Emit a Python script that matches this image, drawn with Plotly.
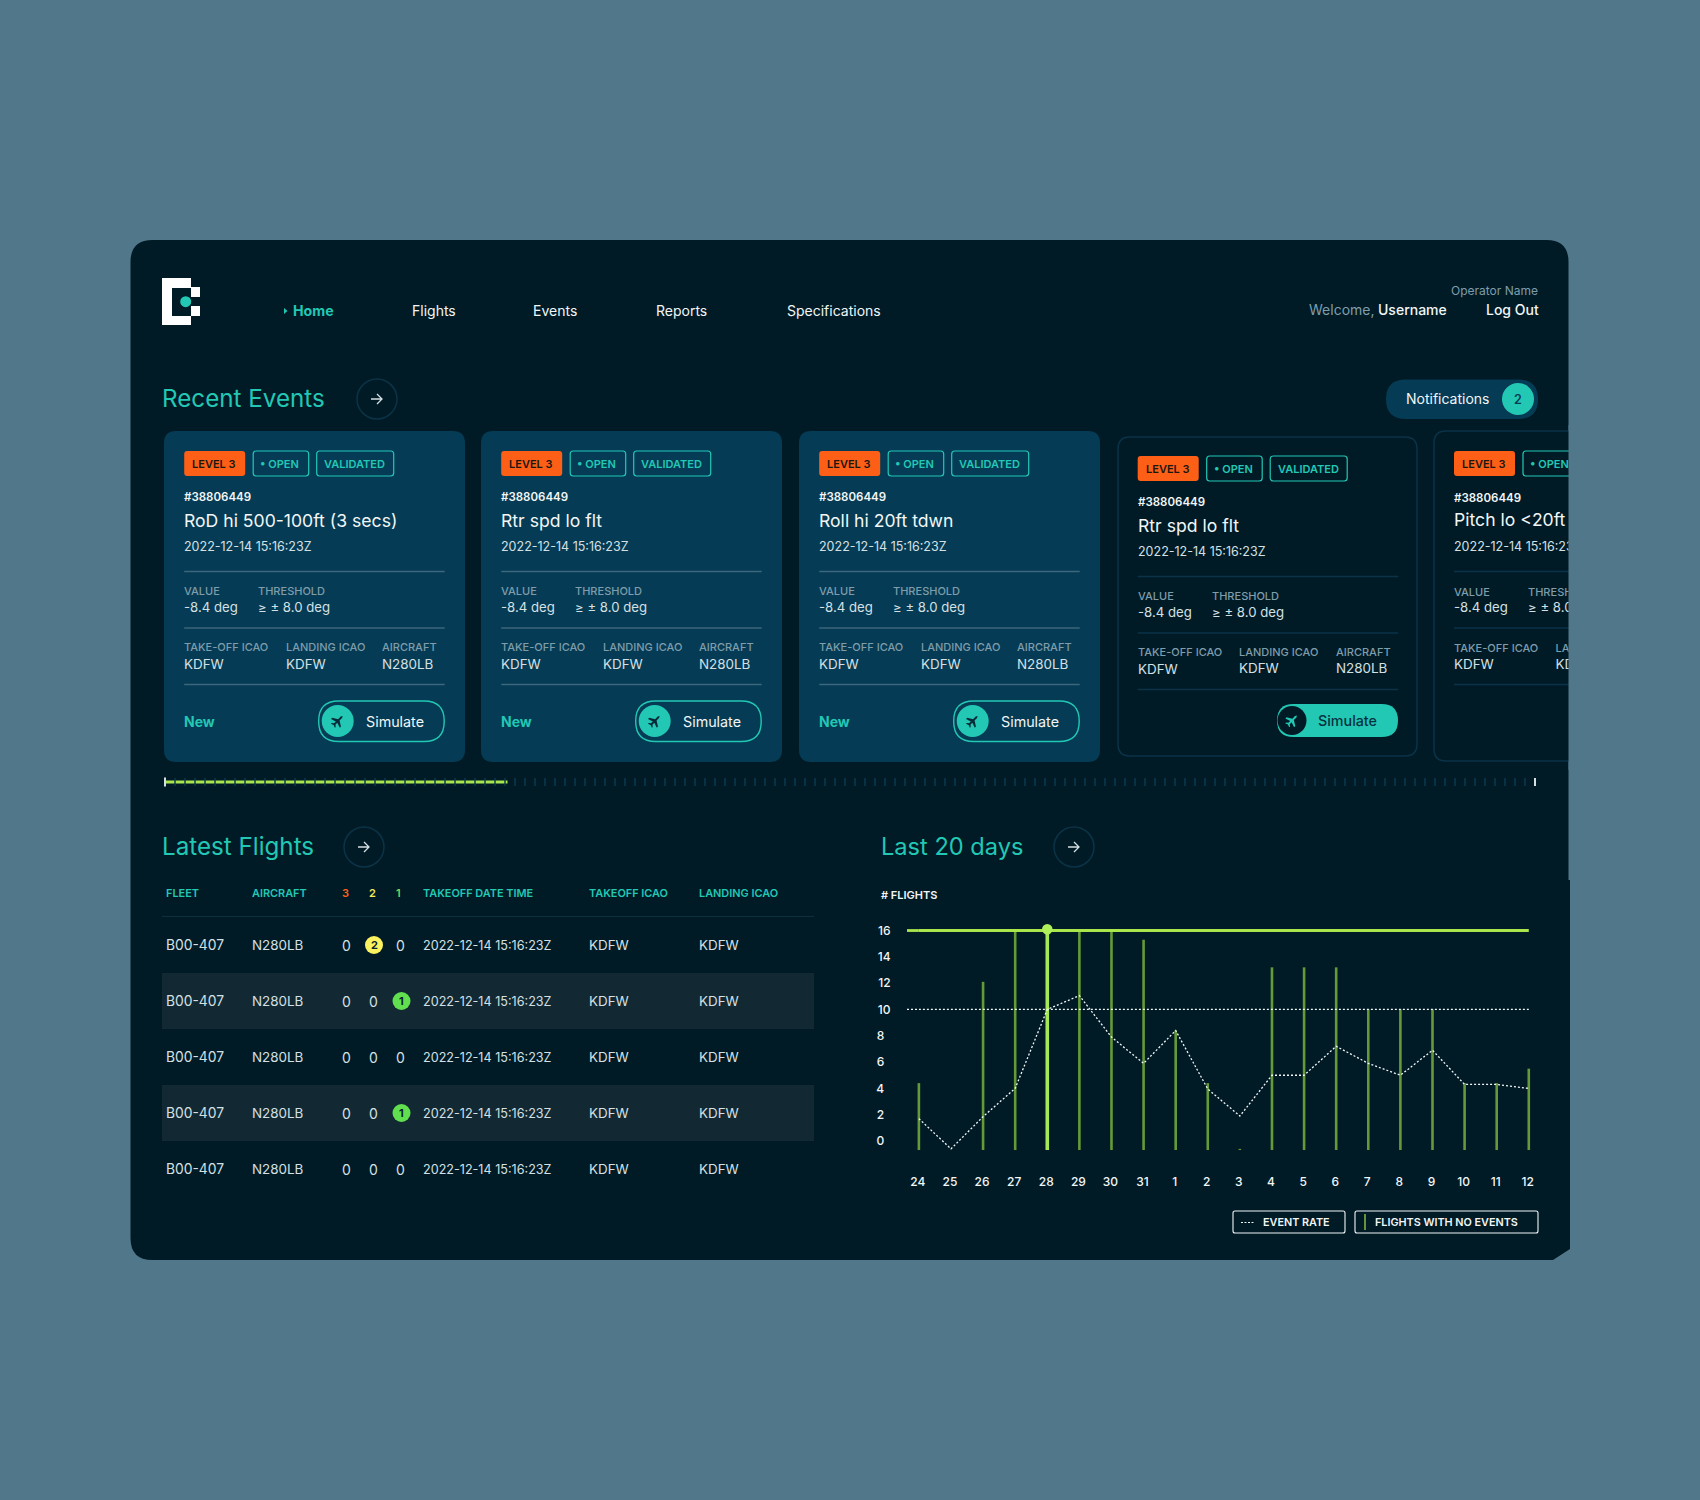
"""
Flight operations dashboard rebuilt with plotly.graph_objects
"""

import math

import plotly.graph_objects as go

# chart data
DAYS = ["24", "25", "26", "27", "28", "29", "30", "31", "1", "2",
        "3", "4", "5", "6", "7", "8", "9", "10", "11", "12"]
NO_EVENT_FLIGHTS = [4.4, None, 12.1, 16, 16, 16, 16, 15.3, 8.4, 4.4,
                    -0.6, 13.2, 13.2, 13.2, 10, 10, 10, 4.4, 4.4, 5.5]
EVENT_RATE = [1.7, -0.6, 1.85, 4.0, 10.0, 11.05, 7.9, 5.9, 8.4, 3.95,
              1.9, 5.0, 5.0, 7.2, 5.9, 5.0, 6.9, 4.3, 4.3, 4.0]
Y_TICKS = [0, 2, 4, 6, 8, 10, 12, 14, 16]
UPPER_LIMIT = 16
MID_LIMIT = 10
SELECTED_DAY = "28"
SELECTED_VALUE = 16.1

# cards
CARD_TITLES = ["RoD hi 500-100ft (3 secs)", "Rtr spd lo flt", "Roll hi 20ft tdwn", "Rtr spd lo flt", "Pitch lo <20ft"]
EVENT_ID = "#38806449"
EVENT_DATE = "2022-12-14 15:16:23Z"
EVENT_VALUE = "-8.4 deg"
EVENT_THRESHOLD = "≥ ± 8.0 deg"
EVENT_ICAO = "KDFW"
EVENT_AIRCRAFT = "N280LB"

# table
TABLE_HEADERS = ["FLEET", "AIRCRAFT", "TAKEOFF DATE TIME", "TAKEOFF ICAO", "LANDING ICAO"]
ROW_FLEET = ["B00-407"] * 5
ROW_AIRCRAFT = ["N280LB"] * 5
ROW_LEVEL3 = [0, 0, 0, 0, 0]
ROW_LEVEL2 = [2, 0, 0, 0, 0]
ROW_LEVEL1 = [0, 1, 0, 1, 0]
ROW_DATE = ["2022-12-14 15:16:23Z"] * 5
ROW_TAKEOFF = ["KDFW"] * 5
ROW_LANDING = ["KDFW"] * 5

NAV_ITEMS = ["Flights", "Events", "Reports", "Specifications"]

PAGE = "#50778a"
PANEL = "#001b26"
CARD = "#053b54"
EDGE = "#0a3349"
TEAL = "#23c8b5"
ORANGE = "#fd5f17"
LIME = "#a9e64c"
BAR = "#659a39"
WHITE = "#f2f6f7"
SOFT = "#d5e0e4"
GREY = "#7f9dab"
FONT = "Inter"

PLANE = [(7, 0), (5.2, 1), (1.6, 1), (-1.6, 6.2), (-3.2, 6.2), (-1.6, 1), (-4.2, 1), (-5.6, 2.8),
         (-6.8, 2.8), (-5.8, 0), (-6.8, -2.8), (-5.6, -2.8), (-4.2, -1), (-1.6, -1), (-3.2, -6.2),
         (-1.6, -6.2), (1.6, -1), (5.2, -1)]

fig = go.Figure()
shapes = []
notes = []
clipped = []
clip_text = False


def text(x, y, s, size=13, color=WHITE, anchor="left", weight=400):
    if clip_text:
        # the last card runs off the panel, annotations can not be clipped so these go in as text traces
        clipped.append((x, y, s, size, color, weight))
        return
    notes.append(dict(x=x, y=y, xref="x", yref="y", text=s, showarrow=False, xanchor=anchor,
                      yanchor="middle", borderpad=0, borderwidth=0,
                      font=dict(family=FONT, size=size, color=color, weight=weight)))


def path(d, fill="rgba(0,0,0,0)", line=None, width=1, dash=None):
    shapes.append(dict(type="path", path=d, xref="x", yref="y", layer="below", fillcolor=fill,
                       line=dict(color=line or "rgba(0,0,0,0)", width=width if line else 0, dash=dash)))


def rrect(x0, y0, x1, y1, r, fill="rgba(0,0,0,0)", line=None, width=1):
    d = (f"M{x0 + r},{y0} L{x1 - r},{y0} Q{x1},{y0} {x1},{y0 + r} L{x1},{y1 - r} Q{x1},{y1} {x1 - r},{y1} "
         f"L{x0 + r},{y1} Q{x0},{y1} {x0},{y1 - r} L{x0},{y0 + r} Q{x0},{y0} {x0 + r},{y0} Z")
    path(d, fill, line, width)


def circle(cx, cy, r, fill="rgba(0,0,0,0)", line=None, width=1):
    shapes.append(dict(type="circle", xref="x", yref="y", layer="below", x0=cx - r, x1=cx + r, y0=cy - r, y1=cy + r,
                       fillcolor=fill, line=dict(color=line or "rgba(0,0,0,0)", width=width if line else 0)))


def hline(x0, x1, y, color, width=1.5):
    path(f"M{x0},{y} L{x1},{y}", line=color, width=width)


def plane(cx, cy, scale, color):
    # nose points up and to the right
    c, s = math.cos(math.radians(-45)), math.sin(math.radians(-45))
    pts = [(cx + scale * (px * c - py * s), cy + scale * (px * s + py * c)) for px, py in PLANE]
    path("M" + " L".join(f"{a:.2f},{b:.2f}" for a, b in pts) + " Z", fill=color)


def arrow_button(cx, cy):
    circle(cx, cy, 20, line="#0b3347", width=1.5)
    path(f"M{cx - 6},{cy} L{cx + 5},{cy} M{cx},{cy - 5} L{cx + 5},{cy} L{cx},{cy + 5}", line=SOFT, width=1.3)


def badges(x, y, show_validated=True):
    rrect(x, y, x + 61, y + 25, 3, fill=ORANGE)
    text(x + 8, y + 12.5, "LEVEL 3", 11, "#1a1712", weight=600)
    rrect(x + 69, y, x + 124.5, y + 25, 3, line=TEAL, width=1.2)
    text(x + 76, y + 12.5, "• OPEN", 11, TEAL, weight=600)
    if show_validated:
        rrect(x + 132.5, y, x + 209.5, y + 25, 3, line=TEAL, width=1.2)
        text(x + 140, y + 12.5, "VALIDATED", 11, TEAL, weight=600)


def card_body(x, y, title, line_color, line_end=None):
    # x, y = left edge of the content and top of the badges
    end = line_end or x + 260.5
    text(x, y + 46, EVENT_ID, 11.5, WHITE, weight=600)
    text(x, y + 69, title, 17.6, WHITE)
    text(x, y + 95, EVENT_DATE, 12.5, SOFT)
    hline(x, end, y + 120.5, line_color)
    text(x, y + 140, "VALUE", 11, GREY, weight=500)
    text(x + 74, y + 140, "THRESHOLD", 11, GREY, weight=500)
    text(x, y + 156, EVENT_VALUE, 13.2, SOFT)
    text(x + 74, y + 156, EVENT_THRESHOLD, 13.2, SOFT)
    hline(x, end, y + 177, line_color)
    text(x, y + 196, "TAKE-OFF ICAO", 11, GREY, weight=500)
    text(x, y + 212.5, EVENT_ICAO, 13.4, SOFT)
    hline(x, end, y + 233.5, line_color)


# panel, the right edge steps out a little and the last corner is chipped
path("M152.5,240 L1546.5,240 Q1568.5,240 1568.5,262 L1568.5,880 L1570,880 L1570,1249 L1553,1260 "
     "L152.5,1260 Q130.5,1260 130.5,1238 L130.5,262 Q130.5,240 152.5,240 Z", fill=PANEL)

# logo
path("M162,278 L191,278 L191,287 L200,287 L200,297 L191,297 L191,288 L172,288 L172,316 L191,316 L191,306 "
     "L200,306 L200,316 L191,316 L191,325 L162,325 Z", fill="#ffffff")
circle(185.7, 301.7, 5.5, fill=TEAL)

# nav
path("M284,308 L287.5,311 L284,314 Z", fill=TEAL)
text(293, 310.5, "Home", 14.2, TEAL, weight=700)
for label, nav_x in zip(NAV_ITEMS, [412, 533, 656, 787]):
    text(nav_x, 310.5, label, 14, WHITE)
text(1538, 290, "Operator Name", 12, GREY, anchor="right")
text(1309, 309.5, "Welcome,", 14, GREY)
text(1378, 309.5, "Username", 14, WHITE, weight=500)
text(1486, 309.5, "Log Out", 14, WHITE, weight=500)

# section heads
text(162, 398, "Recent Events", 24.2, TEAL)
arrow_button(377, 399)
rrect(1386, 379.5, 1538, 419, 19.7, fill=CARD)
text(1406, 398.5, "Notifications", 14, WHITE, weight=400)
circle(1518, 399, 16, fill=TEAL)
text(1518, 399, "2", 12.5, "#053b54", anchor="center", weight=600)

# filled cards
for card_x, title in zip([164, 481, 799], CARD_TITLES[:3]):
    rrect(card_x, 431, card_x + 301, 762, 12, fill=CARD)
    x = card_x + 20.2
    badges(x, 451)
    card_body(x, 451, title, "#3c667b")
    text(x + 101.5, 647, "LANDING ICAO", 11, GREY, weight=500)
    text(x + 101.5, 663.5, EVENT_ICAO, 13.4, SOFT)
    text(x + 198, 647, "AIRCRAFT", 11, GREY, weight=500)
    text(x + 198, 663.5, EVENT_AIRCRAFT, 13.4, SOFT)
    text(x, 721.5, "New", 14, TEAL, weight=700)
    rrect(x + 134.5, 701, x + 260, 741.5, 20, line=TEAL, width=1.4)
    circle(x + 153.5, 721, 16, fill=TEAL)
    plane(x + 153.5, 721, 1.0, "#062a38")
    text(x + 181.5, 721, "Simulate", 14.3, WHITE)

# outlined card, hovered state
rrect(1118, 437, 1417, 756, 12, fill=PANEL, line=EDGE, width=1.5)
x = 1137.7
badges(x, 456)
card_body(x, 456, CARD_TITLES[3], EDGE)
text(x + 101.5, 652, "LANDING ICAO", 11, GREY, weight=500)
text(x + 101.5, 667.5, EVENT_ICAO, 13.4, SOFT)
text(x + 198, 652, "AIRCRAFT", 11, GREY, weight=500)
text(x + 198, 667.5, EVENT_AIRCRAFT, 13.4, SOFT)
rrect(1277, 704, 1398, 737, 16.5, fill=TEAL)
circle(1292, 720.5, 14.5, fill=PANEL)
plane(1292, 720.5, 1.0, TEAL)
text(1318, 720.5, "Simulate", 14.3, "#05323f", weight=500)

# last card, cut by the panel edge
rrect(1434, 431, 1600, 761, 12, fill=PANEL, line=EDGE, width=1.5)
x = 1454
clip_text = True
badges(x, 451, show_validated=False)
card_body(x, 451, CARD_TITLES[4], EDGE, line_end=1569)
text(x + 101.5, 647, "LANDING ICAO", 11, GREY, weight=500)
text(x + 101.5, 663.5, EVENT_ICAO, 13.4, SOFT)
clip_text = False
path("M1568.5,425 L1700,425 L1700,770 L1568.5,770 Z", fill=PAGE)

# carousel scrub bar
hline(165, 507.5, 782, LIME, 3)
ticks = " ".join(f"M{t},778 L{t},786" for t in range(175, 1530, 10))
path(ticks, line="#0b3a50", width=1.5)
path("M165,777.5 L165,786.5", line=SOFT, width=2)
path("M1535,778 L1535,786", line=SOFT, width=2)

# latest flights
text(162, 846.5, "Latest Flights", 24.2, TEAL)
arrow_button(364, 847)
for label, head_x in zip(TABLE_HEADERS, [166, 252, 423, 589, 699]):
    text(head_x, 893, label, 10.9, TEAL, weight=600)
text(345.6, 893, "3", 11, ORANGE, anchor="center", weight=600)
text(372.5, 893, "2", 11, "#f4ec5a", anchor="center", weight=600)
text(398.5, 893, "1", 11, "#7ed957", anchor="center", weight=600)
hline(162, 814, 916.5, "#0b3042", 1)

for i, (fleet, aircraft, lv3, lv2, lv1, when, dep, arr) in enumerate(
        zip(ROW_FLEET, ROW_AIRCRAFT, ROW_LEVEL3, ROW_LEVEL2, ROW_LEVEL1, ROW_DATE, ROW_TAKEOFF, ROW_LANDING)):
    row_y = 945 + 56 * i
    if i % 2 == 1:
        path(f"M162,{row_y - 28} L814,{row_y - 28} L814,{row_y + 28} L162,{row_y + 28} Z", fill="#122833")
    text(166, row_y, fleet, 13.8, SOFT)
    text(252, row_y, aircraft, 13.4, SOFT)
    text(346, row_y, str(lv3), 14, SOFT, anchor="center")
    if lv2:
        circle(374, row_y, 9, fill="#fbf25f")
        text(374, row_y, str(lv2), 11, "#0b2230", anchor="center", weight=700)
    else:
        text(373, row_y, str(lv2), 14, SOFT, anchor="center")
    if lv1:
        circle(401.5, row_y, 9, fill="#61e04f")
        text(401.5, row_y, str(lv1), 11, "#0b2230", anchor="center", weight=700)
    else:
        text(400, row_y, str(lv1), 14, SOFT, anchor="center")
    text(423, row_y, when, 12.6, SOFT)
    text(589, row_y, dep, 13.4, SOFT)
    text(699, row_y, arr, 13.4, SOFT)

# last 20 days
text(881, 846.5, "Last 20 days", 23.6, TEAL)
arrow_button(1074, 847)
text(881, 895, "# FLIGHTS", 11, WHITE, weight=600)

rrect(1233, 1211, 1345, 1233, 2, line=WHITE, width=1.1)
path("M1241,1222.5 L1255,1222.5", line=WHITE, width=1, dash="2px,1.5px")
text(1263, 1222, "EVENT RATE", 10.8, WHITE, weight=600)
rrect(1355, 1211, 1538, 1233, 2, line=WHITE, width=1.1)
path("M1365,1214 L1365,1230", line=LIME, width=1.2)
text(1375, 1222, "FLIGHTS WITH NO EVENTS", 10.8, WHITE, weight=600)

# stems rise from a floor a little under the 0 label, drawn as one gapped line so every stem has the same width
Y_FLOOR = -0.684
stem_x, stem_y = [], []
for day, value in zip(DAYS, NO_EVENT_FLIGHTS):
    if value is not None and day != SELECTED_DAY:
        stem_x += [day, day, None]
        stem_y += [Y_FLOOR, value, None]
fig.add_trace(go.Scatter(
    x=stem_x, y=stem_y, xaxis="x2", yaxis="y2", mode="lines",
    line=dict(color=BAR, width=2.6), name="FLIGHTS WITH NO EVENTS",
))
selected_value = NO_EVENT_FLIGHTS[DAYS.index(SELECTED_DAY)]
fig.add_trace(go.Scatter(
    x=[SELECTED_DAY, SELECTED_DAY], y=[Y_FLOOR, selected_value], xaxis="x2", yaxis="y2", mode="lines",
    line=dict(color="#a6e857", width=3.6), name="selected day",
))
fig.add_trace(go.Scatter(
    x=DAYS, y=EVENT_RATE, xaxis="x2", yaxis="y2", mode="lines",
    line=dict(color=WHITE, width=1.3, dash="2px,2px"), name="EVENT RATE",
))
for limit, color, width, dash in [(UPPER_LIMIT, LIME, 2.8, None), (MID_LIMIT, WHITE, 1.3, "2px,2px")]:
    fig.add_trace(go.Scatter(
        x=[DAYS[0], DAYS[-1]], y=[limit, limit], xaxis="x2", yaxis="y2", mode="lines",
        line=dict(color=color, width=width, dash=dash), name=f"limit {limit}",
    ))
    shapes.append(dict(type="line", xref="x2", yref="y2", x0=-0.37, x1=0, y0=limit, y1=limit, layer="above",
                       line=dict(color=color, width=width, dash=dash)))
fig.add_trace(go.Scatter(
    x=[SELECTED_DAY], y=[SELECTED_VALUE], xaxis="x2", yaxis="y2", mode="markers",
    marker=dict(color="#aef05a", size=10.5), name="selected",
))

# text of the cut card, clipped by the plot area of the third axes pair
# trace text sits about 2px higher than annotation text at the same y
for tx, ty, label, size, color, weight in clipped:
    fig.add_trace(go.Scatter(
        x=[tx], y=[ty + 2], xaxis="x3", yaxis="y3", mode="text", text=[label], textposition="middle right",
        textfont=dict(family=FONT, size=size, color=color, weight=weight), cliponaxis=True, name=label,
    ))

fig.update_layout(
    width=1700, height=1500, margin=dict(l=0, r=0, t=0, b=0, autoexpand=False), autosize=False,
    paper_bgcolor=PAGE, plot_bgcolor="rgba(0,0,0,0)", showlegend=False, hovermode=False,
    font=dict(family=FONT),
    xaxis=dict(domain=[0, 1], range=[0, 1700], visible=False, fixedrange=True),
    yaxis=dict(domain=[0, 1], range=[1500, 0], visible=False, fixedrange=True),
    xaxis2=dict(domain=[907 / 1700, 1532 / 1700], range=[-0.37, 19.1], anchor="y2", type="category",
                categoryorder="array", categoryarray=DAYS, tickmode="array", tickvals=DAYS, ticktext=DAYS,
                showgrid=False, zeroline=False, showline=False, ticks="outside", ticklen=21,
                tickcolor="rgba(0,0,0,0)", ticklabelshift=-1,
                tickfont=dict(family=FONT, size=12, color=WHITE, weight=500), fixedrange=True),
    yaxis2=dict(domain=[1 - 1150 / 1500, 1 - 920 / 1500], range=[Y_FLOOR, 16.8], anchor="x2",
                tickmode="array", tickvals=Y_TICKS,
                ticktext=[str(v) if v >= 10 else str(v) + "\u00a0\u00a0" for v in Y_TICKS],
                showgrid=False, zeroline=False, showline=False, ticks="outside", ticklen=13,
                tickcolor="rgba(0,0,0,0)",
                tickfont=dict(family=FONT, size=12, color=WHITE, weight=500), fixedrange=True),
    xaxis3=dict(domain=[0, 1568.5 / 1700], range=[0, 1568.5], anchor="y3", visible=False, fixedrange=True),
    yaxis3=dict(domain=[0, 1], range=[1500, 0], anchor="x3", visible=False, fixedrange=True),
    shapes=shapes, annotations=notes,
)

fig.write_html("out.html", config={"displayModeBar": False},
               post_script="document.body.style.margin='0';document.body.style.background='%s';" % PAGE)
